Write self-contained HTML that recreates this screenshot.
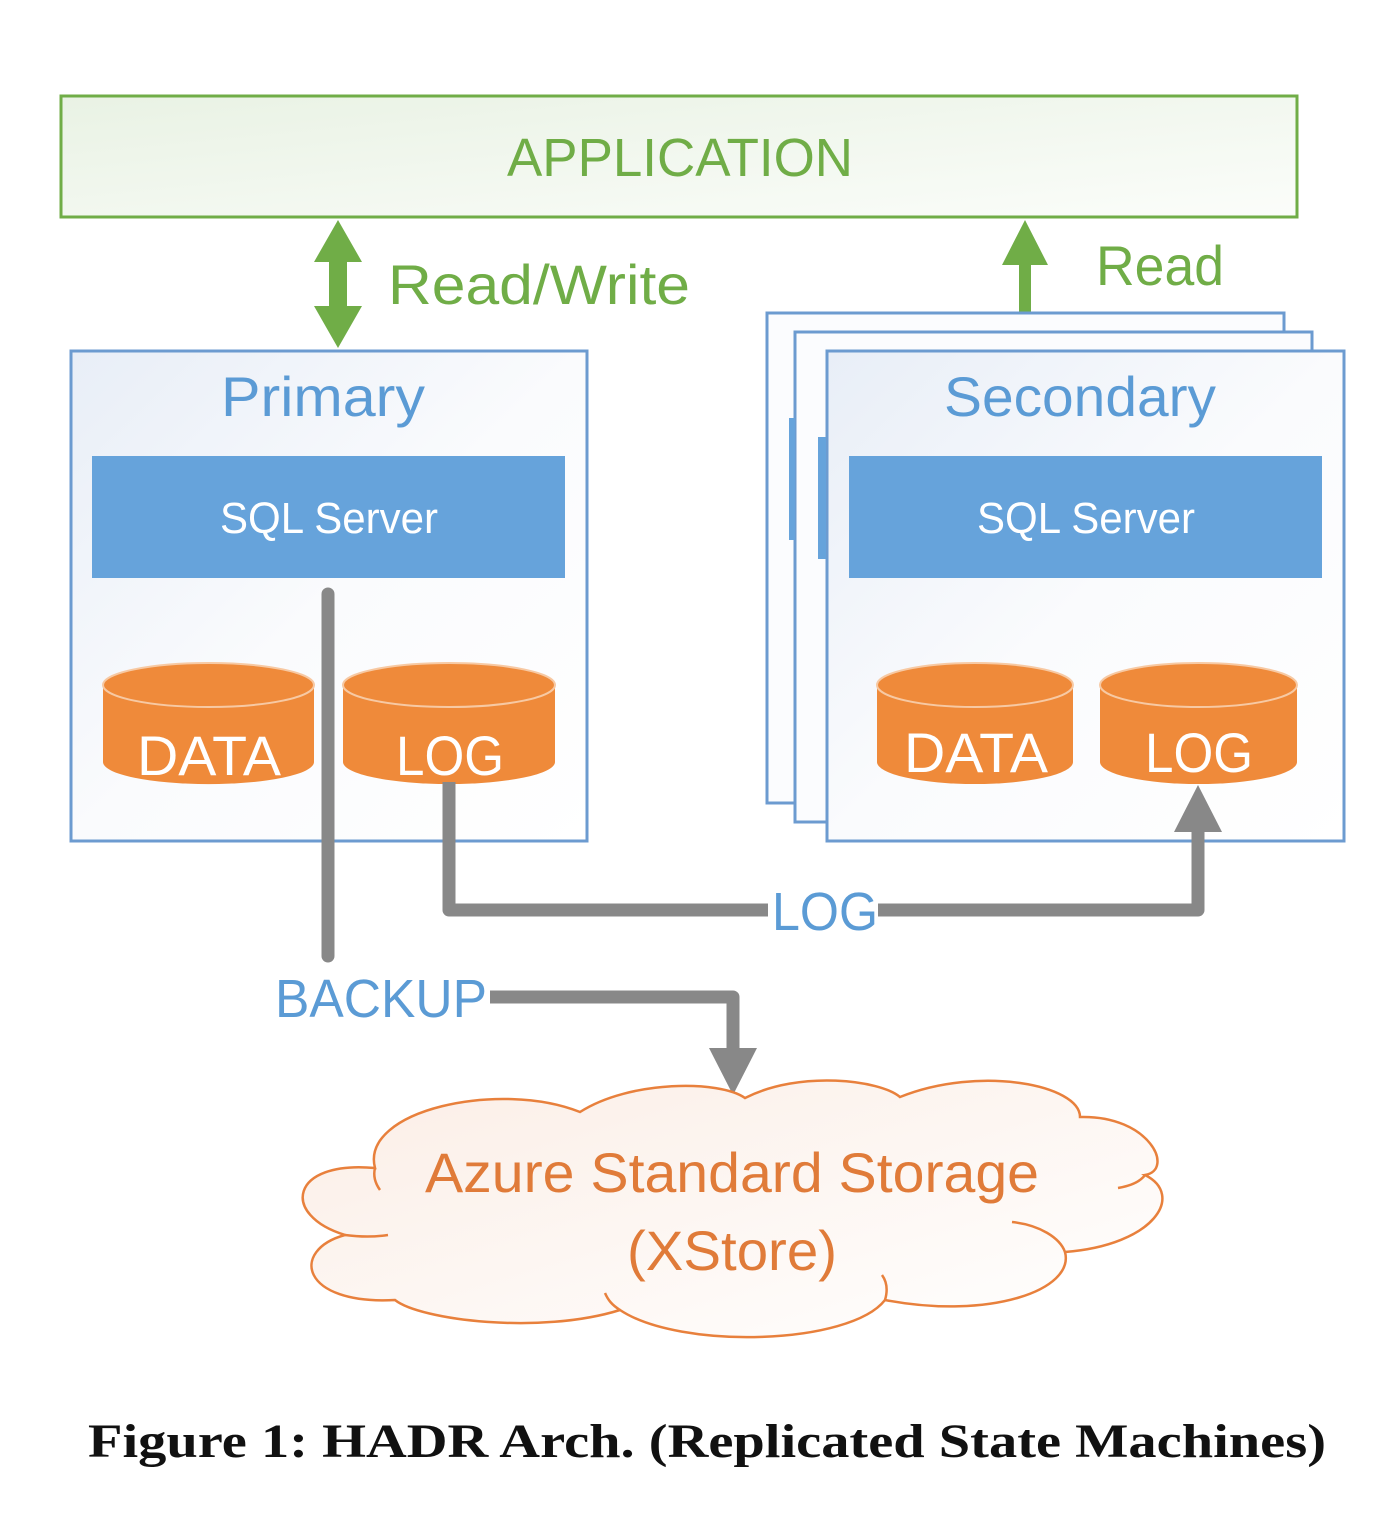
<!DOCTYPE html>
<html><head><meta charset="utf-8"><style>
html,body{margin:0;padding:0;background:#fff}
svg{display:block}
text{font-family:"Liberation Sans",sans-serif}
</style></head><body>
<svg width="1384" height="1514" viewBox="0 0 1384 1514" xmlns="http://www.w3.org/2000/svg">
<defs>
<linearGradient id="gg" x1="0" y1="0" x2="1" y2="1"><stop offset="0" stop-color="#e9f2e4"/><stop offset="1" stop-color="#fbfdfa"/></linearGradient>
<linearGradient id="bg" x1="0" y1="0" x2="1" y2="1"><stop offset="0" stop-color="#e8eef7"/><stop offset="0.5" stop-color="#fafbfd"/><stop offset="1" stop-color="#ffffff"/></linearGradient>
<linearGradient id="cg" x1="0" y1="0" x2="1" y2="1"><stop offset="0" stop-color="#fbeee6"/><stop offset="1" stop-color="#ffffff"/></linearGradient>
</defs>
<!-- Application -->
<rect x="61" y="96" width="1236" height="121" fill="url(#gg)" stroke="#70ad47" stroke-width="3"/>
<text x="680" y="176" font-size="54" fill="#70ad47" text-anchor="middle" textLength="346" lengthAdjust="spacingAndGlyphs">APPLICATION</text>
<!-- Read/Write arrow -->
<polygon points="338,220 362,262 347,262 347,306 362,306 338,348 314,306 329,306 329,262 314,262" fill="#70ad47"/>
<text x="388" y="304" font-size="56" fill="#70ad47" textLength="302" lengthAdjust="spacingAndGlyphs">Read/Write</text>
<!-- Read arrow -->
<polygon points="1025,220 1048,265 1031,265 1031,318 1019,318 1019,265 1002,265" fill="#70ad47"/>
<text x="1096" y="285" font-size="56" fill="#70ad47" textLength="128" lengthAdjust="spacingAndGlyphs">Read</text>
<!-- Primary -->
<rect x="71" y="351" width="516" height="490" fill="url(#bg)" stroke="#6c9bd0" stroke-width="3"/>
<text x="323" y="416" font-size="56" fill="#5b9bd5" text-anchor="middle" textLength="204" lengthAdjust="spacingAndGlyphs">Primary</text>
<rect x="92" y="456" width="473" height="122" fill="#66a3db"/>
<text x="329" y="533" font-size="44" fill="#fff" text-anchor="middle" textLength="218" lengthAdjust="spacingAndGlyphs">SQL Server</text>
<!-- Secondary stack -->
<rect x="767" y="313" width="517" height="490" fill="#fbfcfe" stroke="#6c9bd0" stroke-width="3"/>
<rect x="795" y="332" width="517" height="490" fill="#fbfcfe" stroke="#6c9bd0" stroke-width="3"/>
<rect x="789" y="418" width="6" height="122" fill="#66a3db"/>
<rect x="827" y="351" width="517" height="490" fill="url(#bg)" stroke="#6c9bd0" stroke-width="3"/>
<rect x="818" y="437" width="8" height="122" fill="#66a3db"/>
<text x="1080" y="416" font-size="56" fill="#5b9bd5" text-anchor="middle" textLength="272" lengthAdjust="spacingAndGlyphs">Secondary</text>
<rect x="849" y="456" width="473" height="122" fill="#66a3db"/>
<text x="1086" y="533" font-size="44" fill="#fff" text-anchor="middle" textLength="218" lengthAdjust="spacingAndGlyphs">SQL Server</text>
<!-- Cylinders -->
<g>
<path d="M103,685 L103,762 A105,22 0 0 0 314,762 L314,685 Z" fill="#ef8a3a"/>
<ellipse cx="208.5" cy="685" rx="105.5" ry="22" fill="#ef8a3a" stroke="#f7c9a3" stroke-width="2"/>
<text x="209" y="775" font-size="56" fill="#fff" text-anchor="middle" textLength="144" lengthAdjust="spacingAndGlyphs">DATA</text>
<path d="M343,685 L343,762 A106,22 0 0 0 555,762 L555,685 Z" fill="#ef8a3a"/>
<ellipse cx="449" cy="685" rx="106" ry="22" fill="#ef8a3a" stroke="#f7c9a3" stroke-width="2"/>
<text x="450" y="775" font-size="56" fill="#fff" text-anchor="middle" textLength="108" lengthAdjust="spacingAndGlyphs">LOG</text>
<path d="M877,685 L877,762 A98,22 0 0 0 1073,762 L1073,685 Z" fill="#ef8a3a"/>
<ellipse cx="975" cy="685" rx="98" ry="22" fill="#ef8a3a" stroke="#f7c9a3" stroke-width="2"/>
<text x="976" y="772" font-size="56" fill="#fff" text-anchor="middle" textLength="144" lengthAdjust="spacingAndGlyphs">DATA</text>
<path d="M1100,685 L1100,762 A98.5,22 0 0 0 1297,762 L1297,685 Z" fill="#ef8a3a"/>
<ellipse cx="1198.5" cy="685" rx="98.5" ry="22" fill="#ef8a3a" stroke="#f7c9a3" stroke-width="2"/>
<text x="1199" y="772" font-size="56" fill="#fff" text-anchor="middle" textLength="108" lengthAdjust="spacingAndGlyphs">LOG</text>
</g>
<!-- gray connectors -->
<line x1="328" y1="594" x2="328" y2="956" stroke="#888" stroke-width="13" stroke-linecap="round"/>
<polyline points="449,782 449,910 1198,910 1198,828" fill="none" stroke="#888" stroke-width="13" stroke-linejoin="round"/>
<polygon points="1198,785 1222,832 1174,832" fill="#888"/>
<rect x="768" y="880" width="110" height="58" fill="#fff"/>
<text x="825" y="930" font-size="54" fill="#5b9bd5" text-anchor="middle" textLength="106" lengthAdjust="spacingAndGlyphs">LOG</text>
<text x="275" y="1017" font-size="54" fill="#5b9bd5" textLength="212" lengthAdjust="spacingAndGlyphs">BACKUP</text>
<polyline points="490,997 733,997 733,1050" fill="none" stroke="#888" stroke-width="13" stroke-linejoin="round"/>
<polygon points="709,1048 757,1048 733,1095" fill="#888"/>
<!-- Cloud -->
<path d="M375,1168 C360,1110 500,1080 580,1112 C630,1080 720,1080 745,1098 C800,1070 880,1080 900,1097 C980,1065 1080,1085 1080,1117 C1150,1115 1175,1170 1145,1175 C1185,1195 1155,1245 1065,1252 C1075,1290 990,1320 885,1300 C850,1345 680,1350 620,1310 C540,1335 420,1320 395,1300 C300,1305 290,1250 345,1235 C280,1215 290,1160 375,1168 Z" fill="url(#cg)" stroke="#e8803c" stroke-width="2.5"/>
<path d="M375,1168 C373,1176 375,1183 380,1190" fill="none" stroke="#e8803c" stroke-width="2.5"/>
<path d="M1145,1175 C1140,1182 1130,1186 1118,1188" fill="none" stroke="#e8803c" stroke-width="2.5"/>
<path d="M1012,1222 C1040,1225 1060,1238 1065,1252" fill="none" stroke="#e8803c" stroke-width="2.5"/>
<path d="M885,1300 C888,1290 887,1282 882,1275" fill="none" stroke="#e8803c" stroke-width="2.5"/>
<path d="M620,1310 C612,1305 608,1300 605,1293" fill="none" stroke="#e8803c" stroke-width="2.5"/>
<path d="M345,1235 C360,1237 375,1237 388,1235" fill="none" stroke="#e8803c" stroke-width="2.5"/>
<text x="732" y="1192" font-size="56" fill="#e07b39" text-anchor="middle" textLength="614" lengthAdjust="spacingAndGlyphs">Azure Standard Storage</text>
<text x="732" y="1270" font-size="56" fill="#e07b39" text-anchor="middle" textLength="210" lengthAdjust="spacingAndGlyphs">(XStore)</text>
<!-- Caption -->
<text x="707" y="1457" font-size="48" font-weight="bold" fill="#111" text-anchor="middle" style="font-family:'Liberation Serif',serif" textLength="1238" lengthAdjust="spacingAndGlyphs">Figure 1: HADR Arch. (Replicated State Machines)</text>
</svg>
</body></html>
